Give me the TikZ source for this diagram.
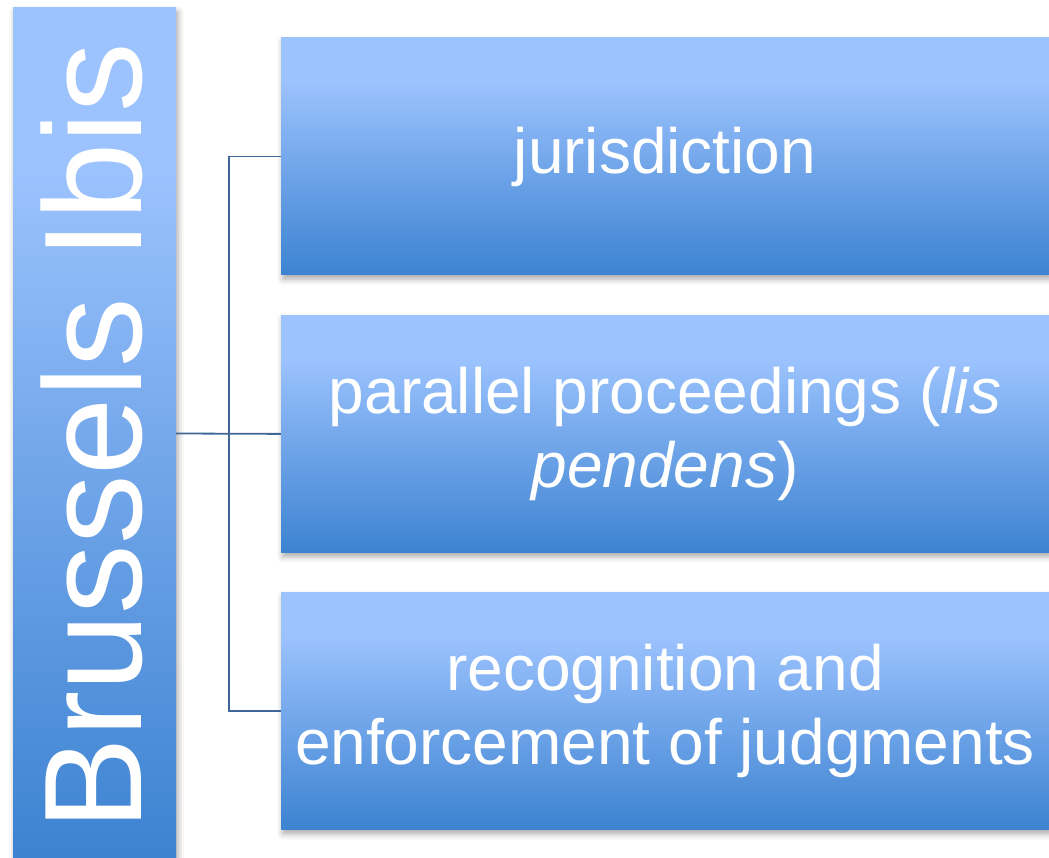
\documentclass[tikz,border=0pt]{standalone}
\usepackage{fontspec}
\setmainfont{Liberation Sans}
\usepackage{tikz}
\usepackage{xcolor}
\usetikzlibrary{positioning}
\usetikzlibrary{shadows.blur}

\definecolor{boxtop}{HTML}{9CC3FE}
\definecolor{boxmid}{HTML}{76A9EC}
\definecolor{boxbot}{HTML}{3D83D1}
\definecolor{linkblue}{HTML}{3F6797}
\pgfdeclareverticalshading{boxshade}{100bp}{color(0bp)=(boxbot); color(25bp)=(boxbot); color(50bp)=(boxmid); color(66bp)=(boxtop); color(100bp)=(boxtop)}

\begin{document}
\begin{tikzpicture}
	[x=1pt, y=-1pt, node distance={40pt},
	main/.style = {shading=boxshade, text=white, inner sep=0pt, align=center,
		blur shadow={shadow xshift=2pt, shadow yshift=-4pt, shadow blur radius=6pt, shadow opacity=35}},
	topic/.style = {main, minimum width=768pt, minimum height=237pt, font=\fontsize{64}{74}\selectfont},
	side/.style = {main, minimum width=163pt, minimum height=851pt},
	link/.style = {draw=linkblue, line width=1.8pt}]
	\useasboundingbox (0,0) rectangle (1049,858);
	\node[side] (brussels) at (94.5,433.5) {};
	\node[rotate=90, text=white, font=\fontsize{139}{150}\selectfont] (title) at ([xshift=-3pt, yshift=-3pt]brussels) {Brussels Ibis};
	\node[topic] (juris) at (665,156.5) {jurisdiction};
	\node[topic] (lis) [below = of juris] {parallel proceedings (\textit{lis}\\\textit{pendens})};
	\node[topic] (recog) [below = of lis] {recognition and\\enforcement of judgments};
	\draw[link] (brussels.east) -- (lis.west);
	\draw[link] (juris.west) -- ++(-52,0) |- (recog.west);
\end{tikzpicture}
\end{document}
